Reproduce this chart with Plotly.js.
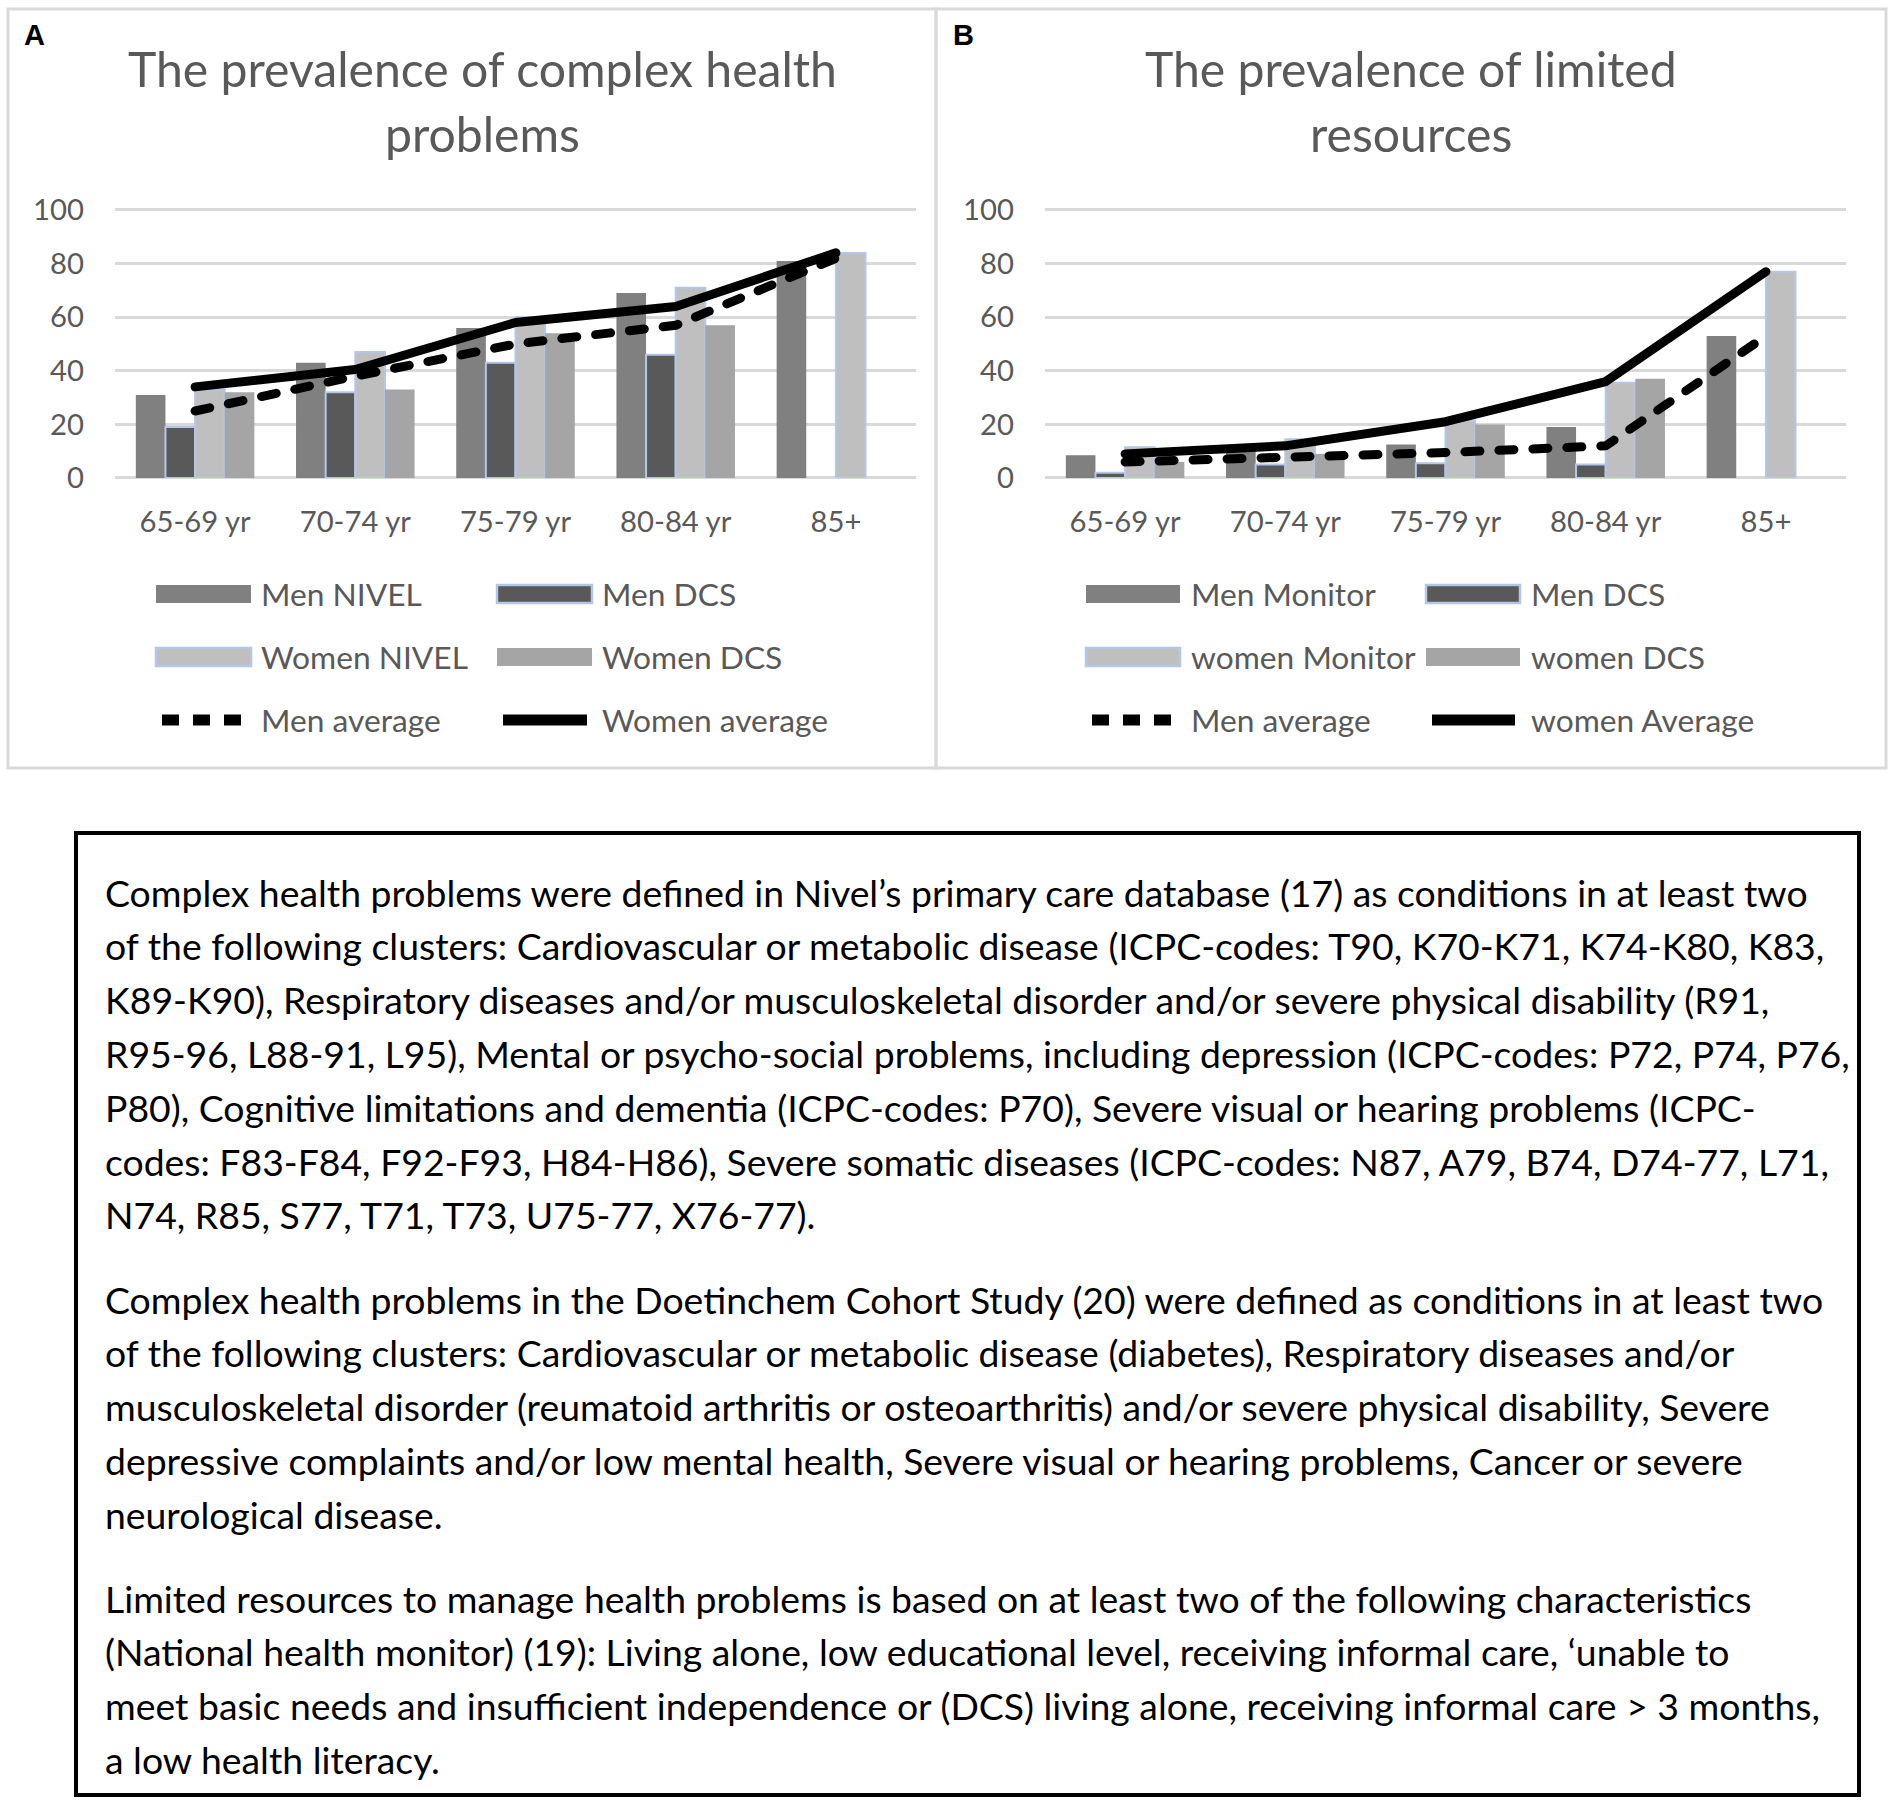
<!DOCTYPE html>
<html><head><meta charset="utf-8">
<script src="https://cdn.plot.ly/plotly-3.0.1.min.js"></script>
<style>html,body{margin:0;padding:0;background:#fff;} #chart{width:1902px;height:1805px;}</style>
</head><body><div id="chart"></div>
<script>
// ---------- data ----------
const categories = ["65-69 yr", "70-74 yr", "75-79 yr", "80-84 yr", "85+"];
const yTicks = [0, 20, 40, 60, 80, 100];

// Panel A: complex health problems
const namesA = ["Men NIVEL", "Men DCS", "Women NIVEL", "Women DCS", "Men average", "Women average"];
const menNivel   = [31, 43, 56, 69, 81];
const menDcsA    = [19, 32, 43, 46, null];
const womenNivel = [33, 47, 60, 71, 84];
const womenDcsA  = [32, 33, 54, 57, null];
const menAvgA    = [25, 38, 50, 57, 82];
const womenAvgA  = [34, 40.5, 58, 64, 84];

// Panel B: limited resources
const namesB = ["Men Monitor", "Men DCS", "women Monitor", "women DCS", "Men average", "women Average"];
const menMonitor   = [8.5, 10, 12.5, 19, 53];
const menDcsB      = [2, 5, 5.5, 5, null];
const womenMonitor = [11.5, 14.5, 21.5, 35.5, 77];
const womenDcsB    = [6, 9, 20, 37, null];
const menAvgB      = [6, 7.5, 9.5, 12, 53];
const womenAvgB    = [9, 12, 21, 36, 77];

const titleA = ["The prevalence of complex health", "problems"];
const titleB = ["The prevalence of limited", "resources"];

const noteParagraphs = [
  ["Complex health problems were defined in Nivel\u2019s primary care database (17) as conditions in at least two",
   "of the following clusters: Cardiovascular or metabolic disease (ICPC-codes: T90, K70-K71, K74-K80, K83,",
   "K89-K90), Respiratory diseases and/or musculoskeletal disorder and/or severe physical disability (R91,",
   "R95-96, L88-91, L95), Mental or psycho-social problems, including depression (ICPC-codes: P72, P74, P76,",
   "P80), Cognitive limitations and dementia (ICPC-codes: P70), Severe visual or hearing problems (ICPC-",
   "codes: F83-F84, F92-F93, H84-H86), Severe somatic diseases (ICPC-codes: N87, A79, B74, D74-77, L71,",
   "N74, R85, S77, T71, T73, U75-77, X76-77)."],
  ["Complex health problems in the Doetinchem Cohort Study (20) were defined as conditions in at least two",
   "of the following clusters: Cardiovascular or metabolic disease (diabetes), Respiratory diseases and/or",
   "musculoskeletal disorder (reumatoid arthritis or osteoarthritis) and/or severe physical disability, Severe",
   "depressive complaints and/or low mental health, Severe visual or hearing problems, Cancer or severe",
   "neurological disease."],
  ["Limited resources to manage health problems is based on at least two of the following characteristics",
   "(National health monitor) (19): Living alone, low educational level, receiving informal care, \u2018unable to",
   "meet basic needs and insufficient independence or (DCS) living alone, receiving informal care > 3 months,",
   "a low health literacy."]
];

// ---------- styles ----------
const W = 1902, H = 1805;
const FONT = "Lato, 'Open Sans', sans-serif";
const TXT = "#595959";
const GRID = "#d9d9d9";
const BLUE_EDGE = "#b4c7e7";
const C_MEN1 = "#808080", C_MEN2 = "#595959", C_WOM1 = "#bfbfbf", C_WOM2 = "#a5a5a5";

const ctx = document.createElement('canvas').getContext('2d');
function fit(text, target, weight) {
  ctx.font = (weight || 400) + " 100px Lato";
  return 100 * target / ctx.measureText(text).width;
}
const titleSize = fit(titleA[0], 710);
const tickSize = fit("65-69 yr", 112);
const legendSize = fit("Women average", 226);
let bodySize = 100;
noteParagraphs.forEach(p => p.forEach(t => { bodySize = Math.min(bodySize, fit(t, 1746)); }));

const px = x => x / W;
const py = y => 1 - y / H;

// ---------- traces ----------
const LW = 9;
const DASH = '15px,19px';
function barTrace(y, color, edge, xa, ya, name) {
  return {type: 'bar', x: categories, y: y, name: name, xaxis: xa, yaxis: ya,
    marker: {color: color, line: {color: edge ? BLUE_EDGE : color, width: edge ? 2 : 0}},
    showlegend: false, hoverinfo: 'skip'};
}
function lineTrace(y, dashed, xa, ya, name) {
  return {type: 'scatter', mode: 'lines', x: categories, y: y, name: name, xaxis: xa, yaxis: ya,
    line: {color: '#000', width: LW, dash: dashed ? DASH : 'solid'},
    showlegend: false, hoverinfo: 'skip'};
}
const data = [
  barTrace(menNivel, C_MEN1, false, 'x', 'y', namesA[0]),
  barTrace(menDcsA, C_MEN2, true, 'x', 'y', namesA[1]),
  barTrace(womenNivel, C_WOM1, true, 'x', 'y', namesA[2]),
  barTrace(womenDcsA, C_WOM2, false, 'x', 'y', namesA[3]),
  lineTrace(menAvgA, true, 'x', 'y', namesA[4]),
  lineTrace(womenAvgA, false, 'x', 'y', namesA[5]),
  barTrace(menMonitor, C_MEN1, false, 'x2', 'y2', namesB[0]),
  barTrace(menDcsB, C_MEN2, true, 'x2', 'y2', namesB[1]),
  barTrace(womenMonitor, C_WOM1, true, 'x2', 'y2', namesB[2]),
  barTrace(womenDcsB, C_WOM2, false, 'x2', 'y2', namesB[3]),
  lineTrace(menAvgB, true, 'x2', 'y2', namesB[4]),
  lineTrace(womenAvgB, false, 'x2', 'y2', namesB[5])
];

// ---------- layout ----------
const plotTop = 210, plotBottom = 478, yMaxPad = 100.8;
const plotTopPad = plotBottom - (plotBottom - plotTop) * yMaxPad / 100;
function xAxis(x0, x1, anchor) {
  return {domain: [px(x0), px(x1)], anchor: anchor, type: 'category', range: [-0.5, 4.5],
    showgrid: false, zeroline: false, showline: false, ticks: '',
    tickfont: {family: FONT, size: tickSize, color: TXT}, ticklabelstandoff: 24, fixedrange: true};
}
function yAxis(anchor) {
  return {domain: [py(plotBottom), py(plotTopPad)], anchor: anchor, range: [0, yMaxPad],
    tickvals: yTicks, ticktext: yTicks.map(String), showgrid: true, gridcolor: GRID, gridwidth: 3,
    zeroline: true, zerolinecolor: GRID, zerolinewidth: 3, showline: false, ticks: '',
    tickfont: {family: FONT, size: tickSize, color: TXT}, ticklabelstandoff: 30, fixedrange: true};
}

const shapes = [];
const annotations = [];

// panel borders
shapes.push({type: 'rect', xref: 'paper', yref: 'paper', x0: px(8), x1: px(936), y0: py(768), y1: py(9),
  line: {color: GRID, width: 3}, fillcolor: 'rgba(0,0,0,0)', layer: 'below'});
shapes.push({type: 'rect', xref: 'paper', yref: 'paper', x0: px(936), x1: px(1886), y0: py(768), y1: py(9),
  line: {color: GRID, width: 3}, fillcolor: 'rgba(0,0,0,0)', layer: 'below'});

// panel letters
annotations.push({xref: 'paper', yref: 'paper', x: px(22), y: py(35), xanchor: 'left', yanchor: 'middle',
  text: '<b>A</b>', showarrow: false, font: {family: 'Liberation Sans, Arial, sans-serif', size: 29, color: '#000'}});
annotations.push({xref: 'paper', yref: 'paper', x: px(951), y: py(35), xanchor: 'left', yanchor: 'middle',
  text: '<b>B</b>', showarrow: false, font: {family: 'Liberation Sans, Arial, sans-serif', size: 29, color: '#000'}});

// titles
[[titleA, 483], [titleB, 1411]].forEach(([lines, cx]) => {
  lines.forEach((t, i) => annotations.push({xref: 'paper', yref: 'paper', x: px(cx), y: py(68 + i * 65),
    xanchor: 'center', yanchor: 'middle', text: t, showarrow: false,
    font: {family: FONT, size: titleSize, color: TXT}}));
});

// custom legends
const legendRows = [594, 657, 720];
const legendStyles = [
  {kind: 'bar', color: C_MEN1, edge: false},
  {kind: 'bar', color: C_MEN2, edge: true},
  {kind: 'bar', color: C_WOM1, edge: true},
  {kind: 'bar', color: C_WOM2, edge: false},
  {kind: 'line', dash: '17px,14px'},
  {kind: 'line', dash: 'solid'}
];
function addLegend(names, cols) {
  names.forEach((nm, i) => {
    const row = Math.floor(i / 2), col = cols[i % 2];
    const yc = legendRows[row];
    const st = legendStyles[i];
    if (st.kind === 'bar') {
      shapes.push({type: 'rect', xref: 'paper', yref: 'paper', x0: px(col.s0), x1: px(col.s1),
        y0: py(yc + 9), y1: py(yc - 9), fillcolor: st.color,
        line: {color: st.edge ? BLUE_EDGE : st.color, width: st.edge ? 2.5 : 0}});
    } else {
      shapes.push({type: 'line', xref: 'paper', yref: 'paper', x0: px(col.s0 + 6), x1: px(col.s1 - 5),
        y0: py(yc), y1: py(yc), line: {color: '#000', width: 11, dash: st.dash}});
    }
    annotations.push({xref: 'paper', yref: 'paper', x: px(col.t), y: py(yc), xanchor: 'left', yanchor: 'middle',
      text: nm, showarrow: false, font: {family: FONT, size: legendSize, color: TXT}});
  });
}
addLegend(namesA, [{s0: 156, s1: 251, t: 259}, {s0: 497, s1: 592, t: 600}]);
addLegend(namesB, [{s0: 1086, s1: 1180, t: 1189}, {s0: 1426, s1: 1520, t: 1529}]);

// note box
shapes.push({type: 'rect', xref: 'paper', yref: 'paper', x0: px(76), x1: px(1859), y0: py(1795), y1: py(833),
  line: {color: '#000', width: 4}, fillcolor: 'rgba(0,0,0,0)'});
const paraStarts = [892, 1299, 1598];
const lineStep = 53.8;
noteParagraphs.forEach((para, p) => {
  para.forEach((t, i) => annotations.push({xref: 'paper', yref: 'paper', x: px(103), y: py(paraStarts[p] + i * lineStep),
    xanchor: 'left', yanchor: 'middle', text: t, showarrow: false,
    font: {family: FONT, size: bodySize, color: '#000'}}));
});

const layout = {
  width: W, height: H, margin: {l: 0, r: 0, t: 0, b: 0},
  paper_bgcolor: '#fff', plot_bgcolor: '#fff',
  barmode: 'group', bargap: 0.26, bargroupgap: 0,
  showlegend: false, hovermode: false,
  xaxis: xAxis(115, 916, 'y'), yaxis: yAxis('x'),
  xaxis2: xAxis(1045, 1846, 'y2'), yaxis2: yAxis('x2'),
  shapes: shapes, annotations: annotations
};

Plotly.newPlot('chart', data, layout, {staticPlot: true, displayModeBar: false}).then(gd => {
  // rounded caps/joins like the original Excel-style lines
  gd.querySelectorAll('.scatterlayer path.js-line').forEach(p => {
    p.style.strokeLinecap = 'round'; p.style.strokeLinejoin = 'round';
  });
  gd.querySelectorAll('.shapelayer path').forEach(p => {
    if (p.style.fill === 'none' || p.getAttribute('fill') === 'none' || !p.style.fill) {
      p.style.strokeLinecap = 'round';
    }
  });
});
</script></body></html>
